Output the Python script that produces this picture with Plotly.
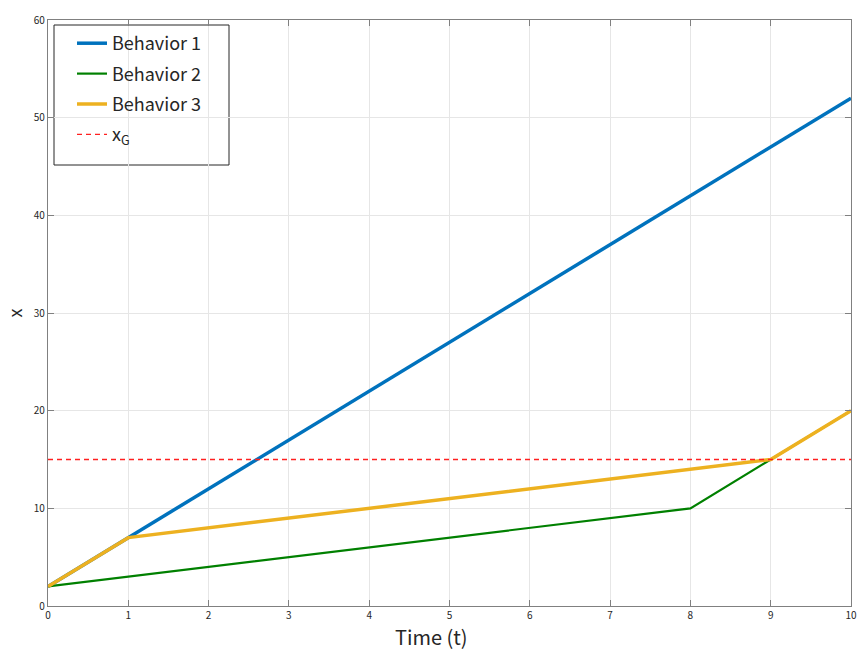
import plotly.graph_objects as go

# Time steps and trajectories
t = [0, 1, 2, 3, 4, 5, 6, 7, 8, 9, 10]
behavior1 = [2, 7, 12, 17, 22, 27, 32, 37, 42, 47, 52]
behavior2_t = [0, 8, 9, 10]
behavior2 = [2, 10, 15, 20]
behavior3_t = [0, 1, 9, 10]
behavior3 = [2, 7, 15, 20]
goal_t = [0, 10]
goal_x = [15, 15]

x_ticks = [0, 1, 2, 3, 4, 5, 6, 7, 8, 9, 10]
y_ticks = [0, 10, 20, 30, 40, 50, 60]

font_family = "Noto Sans CJK JP"
W, H = 857, 650
L, R, T, B = 48, 6, 20, 44
pw, ph = W - L - R, H - T - B


def px_x(x):
    return (x - L) / pw


def px_y(y):
    return (H - B - y) / ph


fig = go.Figure()
fig.add_trace(go.Scatter(x=t, y=behavior1, mode="lines", name="Behavior 1", legendgroup="b1",
                         line=dict(color="#0072BD", width=3.5)))
fig.add_trace(go.Scatter(x=behavior2_t, y=behavior2, mode="lines", name="Behavior 2", legendgroup="b2",
                         line=dict(color="#008000", width=2.2)))
fig.add_trace(go.Scatter(x=behavior3_t, y=behavior3, mode="lines", name="Behavior 3", legendgroup="b3",
                         line=dict(color="#EDB120", width=3.5)))
fig.add_trace(go.Scatter(x=goal_t, y=goal_x, mode="lines", name="x<sub>G</sub>", legendgroup="g",
                         line=dict(color="#FF2020", width=1.4, dash="5px,4px")))

axis_common = dict(
    showgrid=True, gridcolor="#e6e6e6", gridwidth=1,
    showline=True, linecolor="#808080", linewidth=1.3, mirror="ticks",
    ticks="inside", ticklen=6, tickcolor="#808080",
    zeroline=False, automargin=False,
    tickfont=dict(family=font_family, size=10, color="#262626"),
)

fig.update_layout(
    width=W, height=H,
    margin=dict(l=L, r=R, t=T, b=B),
    paper_bgcolor="white", plot_bgcolor="white",
    font=dict(family=font_family, color="#262626"),
    xaxis=dict(range=[0, 10], tickvals=x_ticks, **axis_common),
    yaxis=dict(range=[0, 60], tickvals=y_ticks,
               title=dict(text="x", font=dict(family=font_family, size=18), standoff=6),
               **axis_common),
    legend=dict(x=px_x(72), y=px_y(25), xanchor="left", yanchor="top",
                bgcolor="rgba(0,0,0,0)", borderwidth=0,
                font=dict(family=font_family, size=18, color="#262626"),
                tracegroupgap=4),
    showlegend=True,
)

# Legend frame
fig.add_shape(type="rect", xref="paper", yref="paper",
              x0=px_x(54), x1=px_x(229), y0=px_y(165), y1=px_y(25),
              line=dict(color="#262626", width=1), fillcolor="white", layer="below")

# Horizontal axis title
fig.add_annotation(text="Time (t)", xref="paper", yref="paper",
                   x=px_x(431), y=px_y(636.5), xanchor="center", yanchor="middle",
                   showarrow=False,
                   font=dict(family=font_family, size=20, color="#262626"))

fig.write_html("out.html")
